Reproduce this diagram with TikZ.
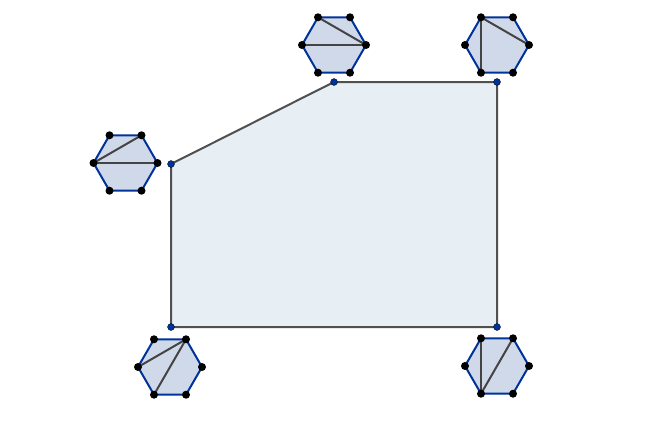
\documentclass[tikz,border=0pt]{standalone}
\usetikzlibrary{calc}
\definecolor{hexblue}{RGB}{0,51,153}
\definecolor{hexfillc}{RGB}{207,217,234}
\definecolor{pentfillc}{RGB}{231,238,244}
\definecolor{edgegray}{RGB}{80,80,80}
\tikzset{
  hexedge/.style={draw=hexblue, fill=hexfillc, line width=2pt, line join=round},
  diag/.style={draw=edgegray!85!black, line width=2pt},
  pentedge/.style={draw=edgegray, fill=pentfillc, line width=2pt, line join=round},
  hexdot/.style={fill=black},
  pentdot/.style={fill=hexblue, draw=black, line width=0.3pt}
}
\begin{document}
\begin{tikzpicture}[x=1pt, y=-1pt]
    \useasboundingbox (0,0) rectangle (664,423);
    % the pentagon
    \coordinate (p1) at (171,164);
    \coordinate (p2) at (334,82);
    \coordinate (p3) at (497,82);
    \coordinate (p4) at (497,327);
    \coordinate (p5) at (171,327);
    \draw[pentedge] (p1) -- (p2) -- (p3) -- (p4) -- (p5) -- cycle;
    \foreach \p in {p1,p2,p3,p4,p5}
        \fill[pentdot] (\p) circle (3.5);
    % the triangulated hexagons: name/centre/diagonals
    \foreach \h/\cx/\cy/\i/\j/\k/\l in {ha/334/45/0/2/0/3, hb/497/45/2/4/2/0, hc/125.5/163/3/1/3/0, hd/170/367/1/3/1/4, he/497/366/2/4/4/1} {
        \foreach \n in {0,...,5}
            \coordinate (\h\n) at ($(\cx,\cy)+(-\n*60:32)$);
        \draw[hexedge] (\h0) -- (\h1) -- (\h2) -- (\h3) -- (\h4) -- (\h5) -- cycle;
        \draw[diag] (\h\i) -- (\h\j);
        \draw[diag] (\h\k) -- (\h\l);
        \foreach \n in {0,...,5}
            \fill[hexdot] (\h\n) circle (4);
    }
\end{tikzpicture}
\end{document}
